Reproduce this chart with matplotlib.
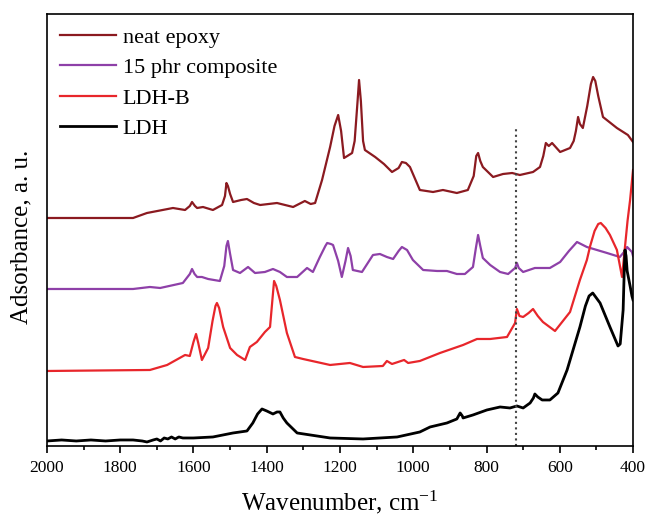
#! /usr/bin/env python3

import matplotlib
matplotlib.use("Agg")
import matplotlib.pyplot as plt
from matplotlib.ticker import MultipleLocator

"""
Spectres lus sur la figure (nombre d'onde en cm-1, absorbance décalée, u. a.).
"""

wn_epoxy = [2000, 1765, 1727, 1656, 1623, 1610, 1604, 1596, 1590, 1574, 1547,
            1522, 1514, 1510, 1506, 1500, 1492, 1470, 1454, 1435, 1418, 1372,
            1328, 1296, 1280, 1268, 1249, 1227, 1215, 1205, 1197, 1189, 1180,
            1167, 1160, 1152, 1148, 1143, 1137, 1132, 1104, 1080, 1058, 1040,
            1031, 1020, 1009, 982, 946, 919, 881, 851, 835, 828, 823, 817, 810,
            782, 755, 730, 709, 673, 654, 645, 638, 630, 621, 599, 572, 562,
            556, 550, 545, 537, 525, 515, 509, 503, 495, 482, 444, 414, 400]
ab_epoxy = [228, 228, 233, 238, 236, 240, 244, 240, 238, 239, 236,
            241, 250, 263, 260, 252, 244, 246, 247, 243, 241, 243,
            239, 245, 242, 243, 266, 299, 320, 331, 315, 288, 290,
            293, 305, 345, 366, 345, 305, 296, 289, 282, 274, 278,
            284, 283, 279, 256, 254, 256, 253, 256, 270, 290, 293, 285, 279,
            269, 272, 273, 271, 274, 279, 290, 303, 300, 303, 294, 298, 305,
            315, 329, 322, 318, 340, 362, 369, 365, 350, 329, 318, 311, 304]

wn_compo = [2000, 1765, 1719, 1691, 1629, 1610, 1604, 1597, 1590, 1577, 1560,
            1528, 1516, 1510, 1506, 1500, 1492, 1473, 1451, 1432, 1405, 1383,
            1364, 1345, 1317, 1290, 1274, 1255, 1240, 1235, 1225, 1219, 1205,
            1195, 1185, 1178, 1171, 1165, 1140, 1110, 1091, 1072, 1055, 1040,
            1031, 1017, 1001, 973, 935, 908, 881, 859, 837, 829, 823, 817, 810,
            790, 763, 741, 722, 717, 712, 700, 668, 627, 599, 575, 553, 526,
            471, 436, 420, 416, 403, 400]
ab_compo = [157, 157, 159, 158, 163, 172, 177, 172, 169, 169, 167,
            165, 180, 200, 205, 192, 176, 173, 179, 173, 174, 177,
            174, 169, 169, 178, 174, 189, 200, 203, 202, 201, 185,
            169, 185, 198, 190, 176, 174, 191, 192, 189, 187, 195,
            199, 196, 186, 176, 175, 175, 172, 172, 179, 198, 211, 200, 188,
            181, 174, 172, 178, 183, 178, 174, 178, 178, 184, 195, 204, 199,
            193, 189, 196, 199, 194, 190]

wn_ldhb = [2000, 1719, 1672, 1623, 1610, 1600, 1593, 1587, 1577, 1560, 1548,
           1540, 1536, 1530, 1519, 1500, 1481, 1459, 1446, 1427, 1405, 1391,
           1386, 1380, 1374, 1364, 1345, 1323, 1301, 1227, 1173, 1137, 1083,
           1072, 1058, 1025, 1014, 982, 927, 864, 826, 790, 744, 722, 717, 710,
           700, 685, 673, 660, 646, 613, 572, 545, 526, 517, 505, 495, 488,
           475, 463, 444, 430, 422, 415, 408, 400]
ab_ldhb = [75, 76, 81, 91, 90, 104, 112, 103, 86, 98, 125,
           140, 143, 138, 119, 98, 91, 86, 99, 104, 114, 119,
           140, 165, 160, 146, 113, 89, 87, 81, 83, 79, 80,
           85, 82, 86, 83, 85, 93, 101, 107, 107, 109, 123, 137, 130,
           129, 133, 137, 130, 124, 115, 134, 166, 186, 200, 215, 222, 223,
           218, 211, 196, 169, 199, 225, 246, 276]

wn_ldh = [2000, 1960, 1920, 1880, 1840, 1800, 1765, 1740, 1727, 1710, 1700,
          1690, 1680, 1670, 1660, 1650, 1640, 1629, 1600, 1547, 1492, 1454,
          1438, 1425, 1413, 1400, 1383, 1372, 1364, 1355, 1345, 1317, 1227,
          1137, 1044, 982, 954, 908, 881, 875, 872, 866, 864, 837, 799, 763,
          736, 717, 700, 681, 672, 668, 660, 648, 627, 605, 580, 545, 530, 520,
          510, 500, 490, 463, 441, 435, 427, 424, 422, 419, 416, 408, 403, 400]
ab_ldh = [5, 6, 5, 6, 5, 6, 6, 5, 4, 6, 7,
          5, 8, 7, 9, 7, 9, 8, 8, 9, 13, 15,
          23, 32, 37, 35, 32, 34, 34, 28, 23, 13, 8,
          7, 9, 14, 19, 23, 27, 31, 33, 30, 28, 31, 36, 39,
          38, 40, 38, 43, 48, 52, 49, 46, 46, 53, 76, 119, 140, 150,
          153, 148, 143, 119, 100, 102, 136, 175, 196, 190, 175, 160, 150, 146]

noms = ["neat epoxy", "15 phr composite", "LDH-B", "LDH"]
couleurs = ["#8b1a20", "#8e40a8", "#e8262b", "black"]

x_pointilles = 720   # bande repérée en cm-1
y_pointilles = 318

"""
Tracé.
"""

plt.rcParams["font.family"] = "Liberation Serif"
plt.rcParams["mathtext.default"] = "regular"

fig = plt.figure(figsize=(6.47, 5.19), dpi=100)
ax = fig.add_axes([0.0726, 0.1407, 0.9058, 0.8323])

series = [(wn_epoxy, ab_epoxy), (wn_compo, ab_compo),
          (wn_ldhb, ab_ldhb), (wn_ldh, ab_ldh)]
for (x, y), nom, c in zip(series, noms, couleurs):
    lw = 2.0 if c == "black" else 1.6
    ax.plot(x, y, color=c, lw=lw, label=nom, solid_joinstyle="round")

ax.plot([x_pointilles, x_pointilles], [0, y_pointilles], ":", color="#444444",
        lw=1.5)

ax.set_xlim(2000, 400)
ax.set_ylim(0, 432)
ax.xaxis.set_major_locator(MultipleLocator(200))
ax.xaxis.set_minor_locator(MultipleLocator(100))
ax.tick_params(axis="x", which="both", direction="out", labelsize=12.5,
               top=False, pad=5)
ax.tick_params(axis="x", which="major", length=5, width=1.2)
ax.tick_params(axis="x", which="minor", length=3, width=1.2)
ax.set_yticks([])
for s in ax.spines.values():
    s.set_linewidth(1.2)

ax.set_xlabel("Wavenumber, cm$^{-1}$", fontsize=18, labelpad=9)
ax.set_ylabel("Adsorbance, a. u.", fontsize=18)
ax.yaxis.set_label_coords(-0.024, 0.484)

ax.legend(loc="upper left", frameon=False, fontsize=16, handlelength=2.5,
          handletextpad=0.3, labelspacing=0.44, borderaxespad=0.2)

fig.savefig("out.png", dpi=100)
